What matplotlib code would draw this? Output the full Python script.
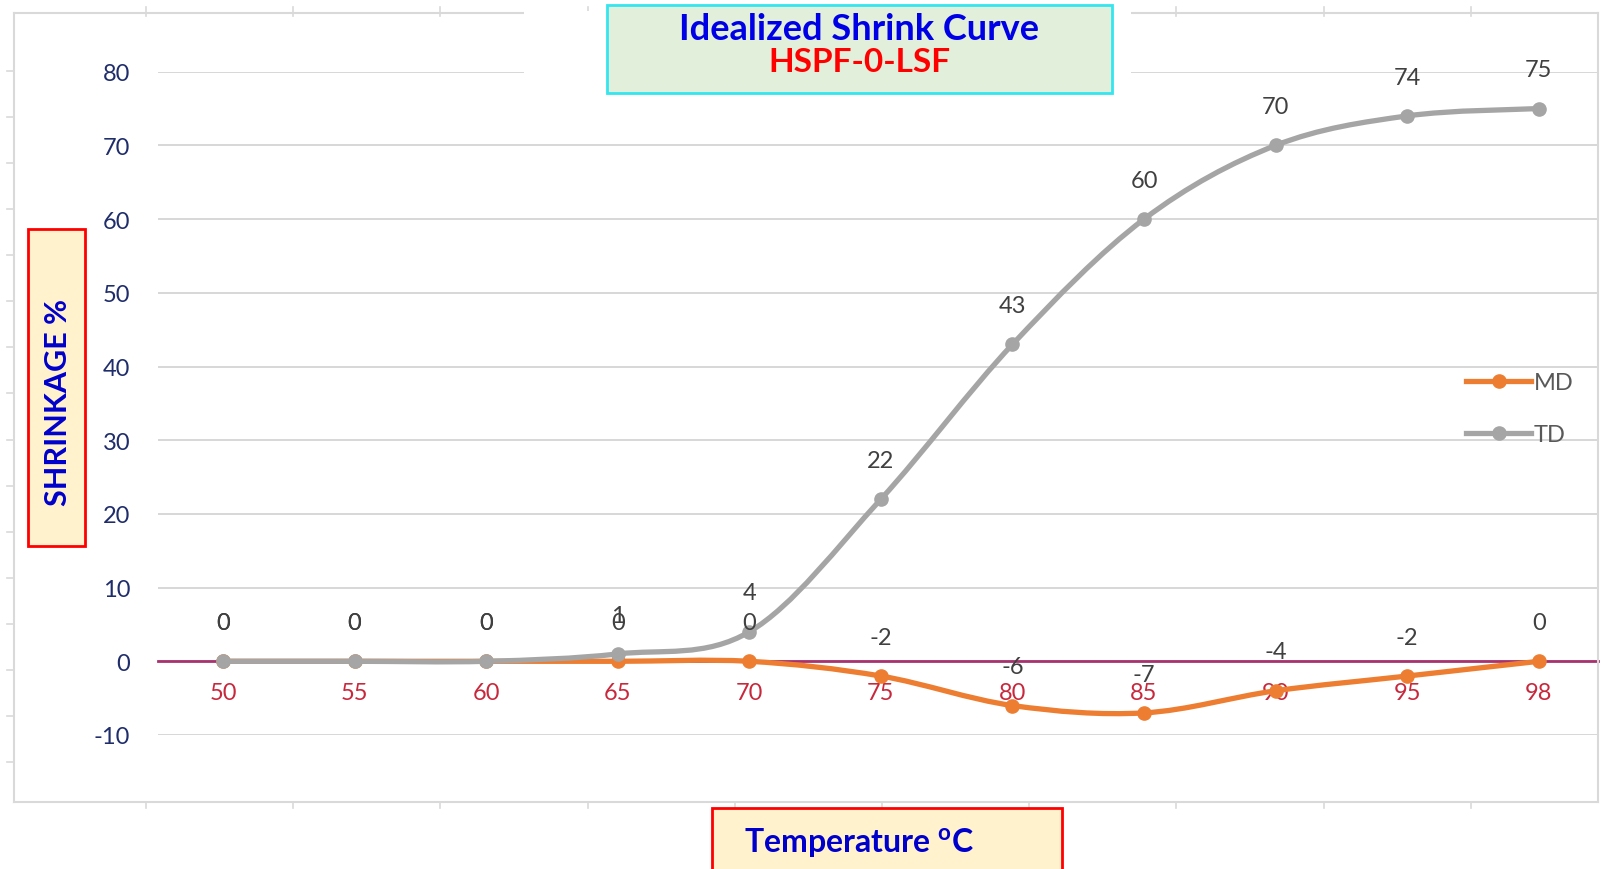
import matplotlib
matplotlib.use('Agg')
import matplotlib.pyplot as plt
from matplotlib.path import Path
from matplotlib.patches import PathPatch, Rectangle
from matplotlib.lines import Line2D
import numpy as np

# ---- data ----
temps = ['50', '55', '60', '65', '70', '75', '80', '85', '90', '95', '98']
md = [0, 0, 0, 0, 0, -2, -6, -7, -4, -2, 0]
td = [0, 0, 0, 1, 4, 22, 43, 60, 70, 74, 75]
y_ticks = [-10, 0, 10, 20, 30, 40, 50, 60, 70, 80]

plt.rcParams['font.family'] = ['Lato', 'DejaVu Sans']
plt.rcParams['axes.unicode_minus'] = False

W, H = 1605, 870
fig = plt.figure(figsize=(W / 100, H / 100), dpi=100)
fig.patch.set_facecolor('white')


def fx(p):
    return p / W


def fy(p):
    return 1 - p / H


ax = fig.add_axes([fx(158), fy(736), fx(1598) - fx(158), fy(72.7) - fy(736)])
ax.set_xlim(-0.494, 10.45)
ax.set_ylim(-10, 80)
ax.set_facecolor('none')


def smooth_path(xs, ys):
    pts = np.column_stack([xs, ys]).astype(float)
    n = len(pts)
    verts = [pts[0]]
    codes = [Path.MOVETO]
    for i in range(n - 1):
        p0 = pts[i - 1] if i > 0 else pts[i]
        p1 = pts[i]
        p2 = pts[i + 1]
        p3 = pts[i + 2] if i + 2 < n else pts[i + 1]
        c1 = p1 + (p2 - p0) / 6.0
        c2 = p2 - (p3 - p1) / 6.0
        verts += [c1, c2, p2]
        codes += [Path.CURVE4] * 3
    return Path(verts, codes)


x = np.arange(len(temps))
MD_C = '#ED7D31'
TD_C = '#A5A5A5'
LW = 3.8
MS = 9.5

for vals, col, z in [(md, MD_C, 3), (td, TD_C, 4)]:
    ax.add_patch(PathPatch(smooth_path(x, vals), facecolor='none', edgecolor=col,
                           lw=LW, zorder=z, capstyle='round', joinstyle='round', clip_on=False))
    ax.plot(x, vals, 'o', color=col, ms=MS, zorder=z + 0.5, clip_on=False)

lab_kw = dict(textcoords='offset points', ha='center', va='center',
              fontsize=17, color='#404040', zorder=6)
for i in range(len(temps)):
    ax.annotate(str(md[i]), (x[i], md[i]), xytext=(0, 28), **lab_kw)
    ax.annotate(str(td[i]), (x[i], td[i]), xytext=(0, 28), **lab_kw)

# axes styling
ax.set_yticks(y_ticks)
ax.set_xticks(x)
ax.set_xticklabels(temps)
ax.yaxis.grid(True, color='#d4d4d4', lw=1.3)
ax.set_axisbelow(True)
for s in ['left', 'right', 'top']:
    ax.spines[s].set_visible(False)
ax.spines['bottom'].set_position(('data', 0))
ax.spines['bottom'].set_color('#a8326e')
ax.spines['bottom'].set_linewidth(2)
ax.spines['bottom'].set_zorder(2.5)
ax.tick_params(axis='x', length=0, pad=15, labelsize=17, labelcolor='#c8283c')
ax.tick_params(axis='y', length=0, pad=20, labelsize=17, labelcolor='#1f2d6b')

# legend
handles = [Line2D([], [], color=MD_C, lw=LW, marker='o', ms=MS),
           Line2D([], [], color=TD_C, lw=LW, marker='o', ms=MS)]
leg = ax.legend(handles, ['MD', 'TD'], loc='upper left', frameon=False,
                bbox_to_anchor=(fx(1457), fy(364)), bbox_transform=fig.transFigure,
                handlelength=2.75, handletextpad=0.1, labelspacing=1.3,
                fontsize=17, borderaxespad=0)
for t in leg.get_texts():
    t.set_color('#595959')

# outer chart frame
fc = '#d9d9d9'
for (x0, y0, x1, y1) in [(14, 14, 1598, 14), (14, 803, 1598, 803), (14, 14, 14, 803), (1598, 14, 1598, 803)]:
    fig.add_artist(Line2D([fx(x0), fx(x1)], [fy(y0), fy(y1)], color=fc, lw=1.5, zorder=0.5))
for k in range(16):
    yy = 72 + 46.07 * k
    fig.add_artist(Line2D([fx(7), fx(14)], [fy(yy), fy(yy)], color=fc, lw=1.2, zorder=0.5))
for k in range(10):
    xx = 146 + 147.2 * k
    fig.add_artist(Line2D([fx(xx), fx(xx)], [fy(803), fy(809)], color=fc, lw=1.2, zorder=0.5))
    fig.add_artist(Line2D([fx(xx), fx(xx)], [fy(8), fy(17)], color=fc, lw=1.2, zorder=0.5))

# white patch behind title
fig.add_artist(Rectangle((fx(524), fy(80)), fx(1131) - fx(524), fy(12) - fy(80),
                         transform=fig.transFigure, facecolor='white', edgecolor='none', zorder=1))
# title box
fig.add_artist(Rectangle((fx(607), fy(94)), fx(1112) - fx(607), fy(6) - fy(94),
                         transform=fig.transFigure, facecolor='#e2efda', edgecolor='#33e6f0',
                         lw=2, zorder=2))
fig.text(fx(859), fy(30), 'Idealized Shrink Curve', ha='center', va='center',
         fontsize=26, fontweight='bold', color='#0000e6', zorder=3)
fig.text(fx(859), fy(63), 'HSPF-0-LSF', ha='center', va='center',
         fontsize=24, fontweight='bold', color='#ff0000', zorder=3)

# y label box
fig.add_artist(Rectangle((fx(28), fy(547)), fx(85) - fx(28), fy(230) - fy(547),
                         transform=fig.transFigure, facecolor='#fff2cc', edgecolor='#ff0000',
                         lw=2, zorder=2))
fig.text(fx(58), fy(402), 'SHRINKAGE %', ha='center', va='center', rotation=90,
         fontsize=22, fontweight='bold', color='#0000cc', zorder=3)

# x label box
fig.add_artist(Rectangle((fx(712), fy(875)), fx(1062) - fx(712), fy(809) - fy(875),
                         transform=fig.transFigure, facecolor='#fff2cc', edgecolor='#ff0000',
                         lw=2, zorder=2))
fig.text(fx(744), fy(843), r'Temperature $^{\mathregular{o}}$C', ha='left', va='center',
         fontsize=23, fontweight='bold', color='#0000cc', zorder=3)

fig.savefig('out.png', dpi=100, facecolor='white')
